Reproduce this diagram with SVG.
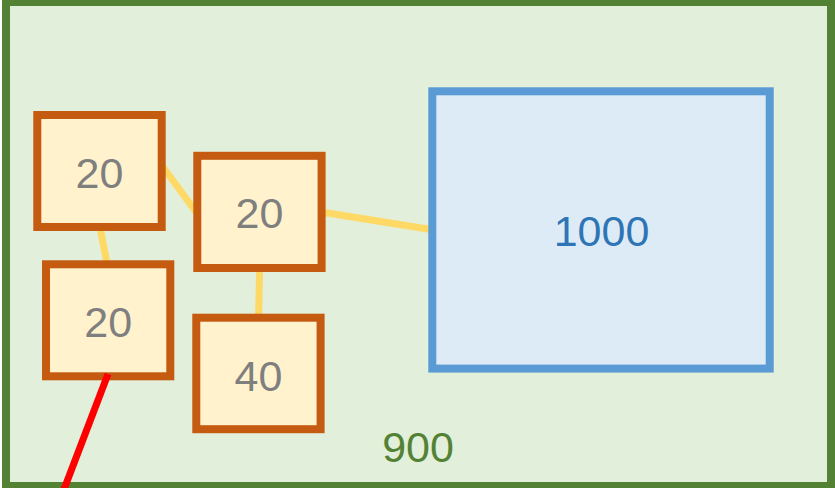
<svg xmlns="http://www.w3.org/2000/svg" width="835" height="488" viewBox="0 0 835 488">
<style>
.box{fill:#fff2cc;stroke:#c55a11;stroke-width:8}
.big{fill:#ddebf7;stroke:#5b9bd5;stroke-width:8}
.lbl{font-family:"Liberation Sans",Arial,sans-serif;font-size:43px;text-anchor:middle;fill:#7f7f7f}
.link{stroke:#ffd966;stroke-width:7;fill:none}
</style>
<g id="region">
<rect x="6" y="2" width="825" height="484" fill="#e2efda" stroke="#548235" stroke-width="8"/>
<text class="lbl" x="418" y="462" style="fill:#548235">900</text>
</g>
<g id="connectors">
<line class="link" x1="160" y1="163" x2="199" y2="216"/>
<line class="link" x1="99.5" y1="225" x2="107.5" y2="266"/>
<line class="link" x1="259.7" y1="266" x2="258.5" y2="319"/>
<line class="link" x1="318" y1="211.5" x2="434" y2="230"/>
</g>
<g id="node-a">
<rect class="box" x="37.3" y="115" width="124.4" height="112"/>
<text class="lbl" x="99.5" y="187.5">20</text>
</g>
<g id="node-b">
<rect class="box" x="197.3" y="155.8" width="124.3" height="112.2"/>
<text class="lbl" x="259.5" y="228.3">20</text>
</g>
<g id="node-c">
<rect class="box" x="46" y="264.3" width="124.3" height="112"/>
<text class="lbl" x="108.2" y="337.3">20</text>
</g>
<g id="node-d">
<rect class="box" x="196.3" y="317.7" width="124.3" height="111.5"/>
<text class="lbl" x="258.5" y="391">40</text>
</g>
<g id="node-e">
<rect class="big" x="432.3" y="91.3" width="337.4" height="277.3"/>
<text class="lbl" x="601.5" y="245.7" style="fill:#2e75b6">1000</text>
</g>
<g id="red-link">
<line x1="108" y1="374" x2="63" y2="492" stroke="#ff0000" stroke-width="7"/>
</g>
</svg>
